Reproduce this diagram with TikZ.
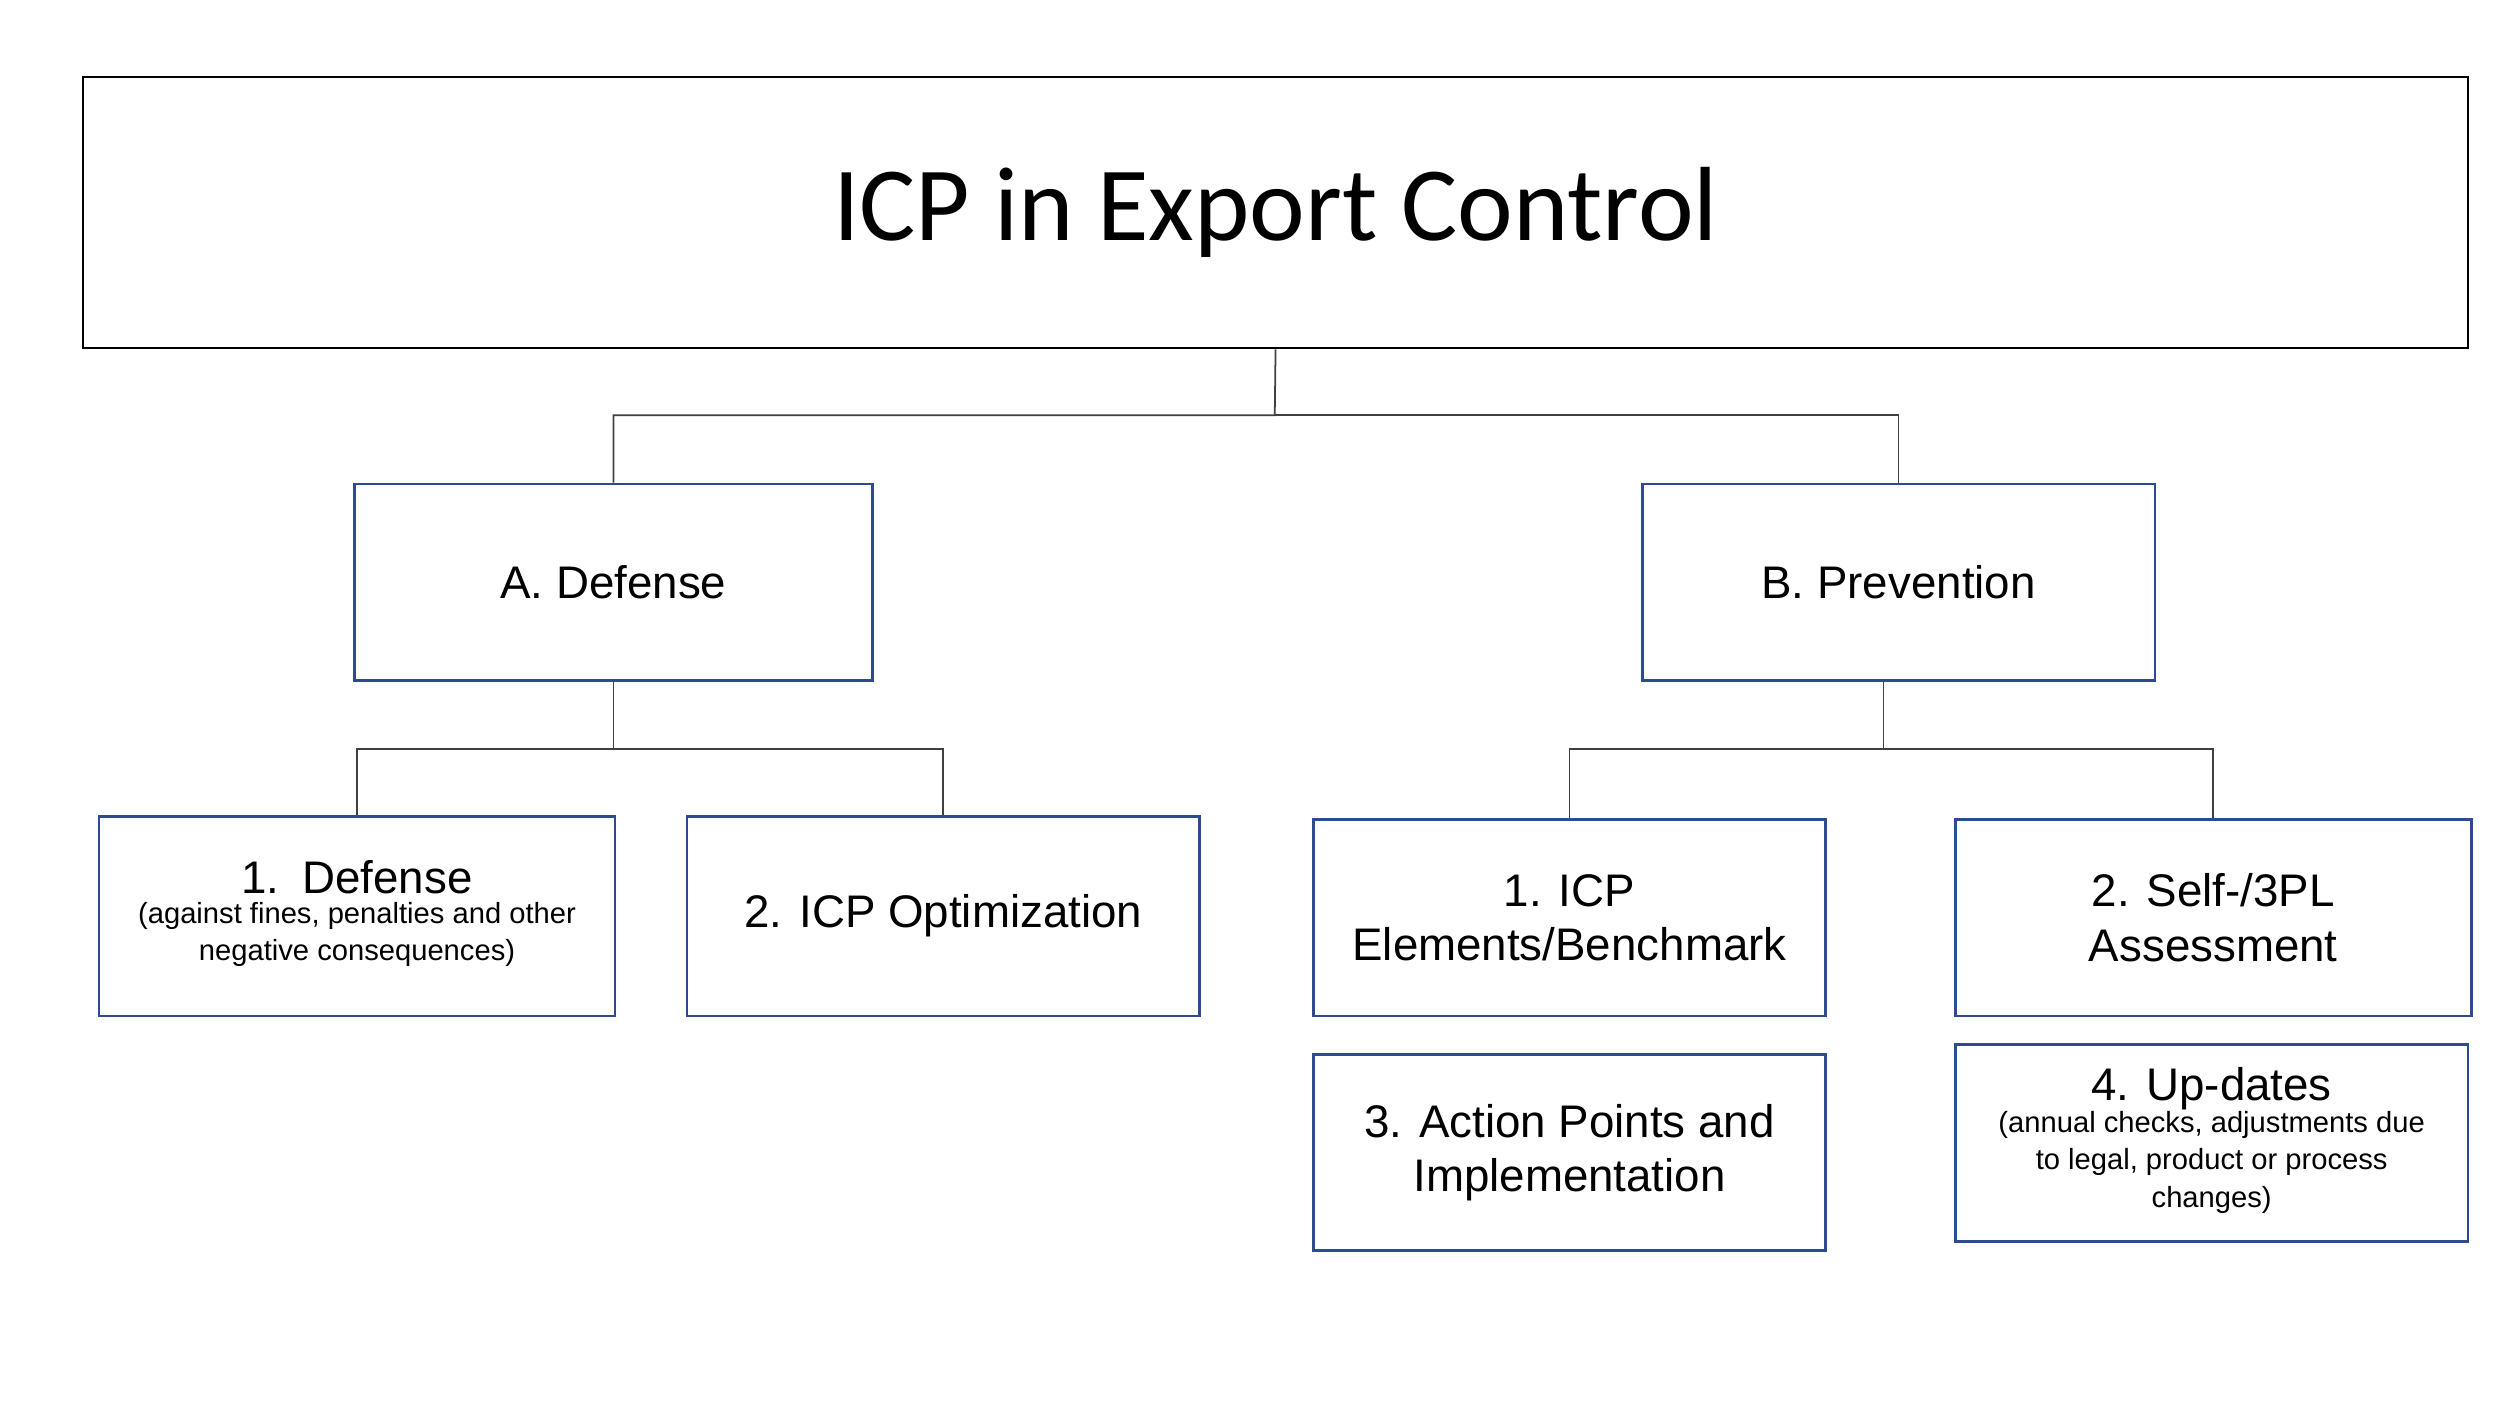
\documentclass[tikz,border=0pt]{standalone}
\usepackage{fontspec}
\setmainfont{Liberation Sans}
\newfontfamily\titlefont{Carlito}
\definecolor{boxblue}{HTML}{2F4B8F}
\newcommand{\smalllines}[1]{{\fontsize{8.3}{10.6}\selectfont\begin{tabular}{@{}c@{}}#1\end{tabular}}}
\begin{document}
\begin{tikzpicture}[x=0.01597cm,y=-0.01597cm,
  box/.style={draw=boxblue,line width=0.8pt,inner sep=2pt,align=center,font=\fontsize{13}{15.5}\selectfont},
  conn/.style={draw=black!75,line width=0.5pt}]
\fill[white] (0,0) rectangle (1565,879);
\node[draw,line width=0.6pt,minimum width=1493*0.01597cm,minimum height=170*0.01597cm,font=\titlefont\fontsize{30}{34}\selectfont] (T) at (798.5,133) {ICP in Export Control};
\node[box,minimum width=324*0.01597cm,minimum height=123*0.01597cm] (A) at (384,364.5) {A. Defense};
\node[box,minimum width=321*0.01597cm,minimum height=123*0.01597cm] (B) at (1188.5,364.5) {B. Prevention};
\node[box,minimum width=323*0.01597cm,minimum height=125*0.01597cm] (A1) at (223.5,573.5) {1.\enspace Defense\\[-2pt] \smalllines{(against fines, penalties and other\\ negative consequences)}};
\node[box,minimum width=321*0.01597cm,minimum height=125*0.01597cm] (A2) at (590.5,573.5) {2. ICP Optimization};
\node[box,minimum width=321*0.01597cm,minimum height=123*0.01597cm] (B1) at (982.5,574.5) {1. ICP\\Elements/Benchmark};
\node[box,minimum width=323*0.01597cm,minimum height=123*0.01597cm] (B2) at (1385.5,574.5) {2. Self-/3PL\\Assessment};
\node[box,minimum width=321*0.01597cm,minimum height=123*0.01597cm] (B3) at (982.5,721.5) {3. Action Points and\\Implementation};
\node[box,minimum width=321*0.01597cm,minimum height=123*0.01597cm] (B4) at (1384.5,715.5) {4. Up-dates\\[-2pt] \smalllines{(annual checks, adjustments due\\ to legal, product or process\\ changes)}};
\coordinate (t1) at (798,260);
\coordinate (a1) at (384,469);
\coordinate (b1) at (1179,469);
\draw[conn] (T.south) -- (t1) -| (A.north);
\draw[conn] (t1) -| (B.north);
\draw[conn] (A.south) -- (a1) -| (A1.north);
\draw[conn] (a1) -| (A2.north);
\draw[conn] (B.south -| b1) -- (b1) -| (B1.north);
\draw[conn] (b1) -| (B2.north);
\end{tikzpicture}
\end{document}
